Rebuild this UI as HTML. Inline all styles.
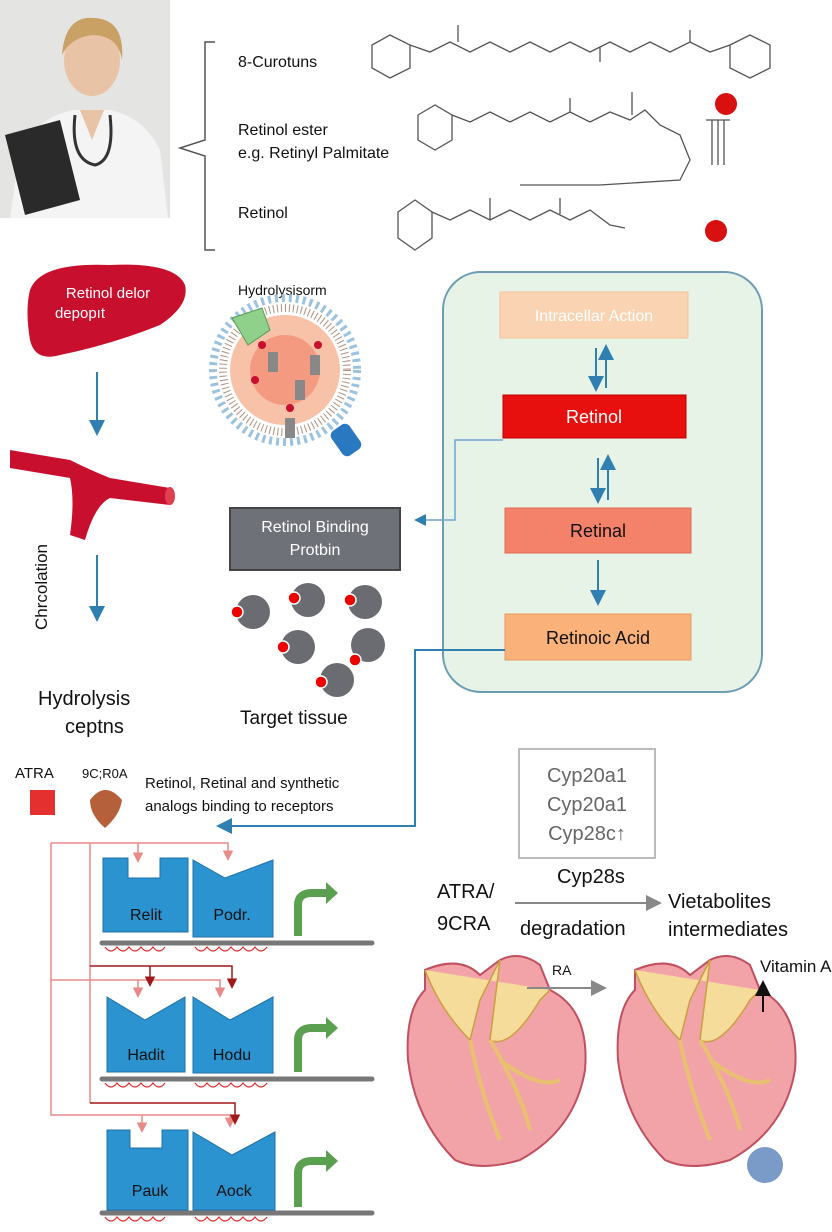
<!DOCTYPE html>
<html><head><meta charset="utf-8"><style>
body{margin:0;background:#fff;}
svg{display:block;font-family:"Liberation Sans",sans-serif;}
</style></head><body>
<svg width="832" height="1232" viewBox="0 0 832 1232" xmlns="http://www.w3.org/2000/svg">
<defs>
<marker id="ab" markerWidth="8" markerHeight="8" refX="6" refY="4" orient="auto"><path d="M0,0 L8,4 L0,8 z" fill="#2f7fb0"/></marker>
<marker id="ag" markerWidth="8" markerHeight="8" refX="6" refY="4" orient="auto"><path d="M0,0 L8,4 L0,8 z" fill="#888"/></marker>
<marker id="ak" markerWidth="8" markerHeight="8" refX="6" refY="4" orient="auto"><path d="M0,0 L8,4 L0,8 z" fill="#111"/></marker>
<marker id="ap" markerWidth="7" markerHeight="7" refX="5" refY="3.5" orient="auto"><path d="M0,0 L7,3.5 L0,7 z" fill="#e88a88"/></marker>
<marker id="ar" markerWidth="7" markerHeight="7" refX="5" refY="3.5" orient="auto"><path d="M0,0 L7,3.5 L0,7 z" fill="#a01818"/></marker>
</defs>
<!-- doctor photo -->
<rect x="0" y="0" width="170" height="218" fill="#e4e4e2"/>
<path d="M10,218 L20,150 Q40,115 75,110 L110,110 Q145,118 160,150 L168,218 z" fill="#f4f4f4"/>
<ellipse cx="92" cy="60" rx="28" ry="36" fill="#e9c3a6"/>
<path d="M62,55 Q65,15 95,18 Q125,20 122,60 Q118,35 92,35 Q70,38 62,55z" fill="#c9a164"/>
<path d="M80,110 L92,140 L104,110z" fill="#e9c3a6"/>
<path d="M5,135 L60,120 L80,200 L25,215z" fill="#2a2a2a"/>
<path d="M75,115 Q70,160 95,165 Q115,160 110,115" fill="none" stroke="#333" stroke-width="3"/>
<!-- bracket -->
<path d="M215,42 L205,42 L205,140 L180,148 L205,156 L205,250 L215,250" fill="none" stroke="#555" stroke-width="1.5"/>
<g font-size="16" fill="#111">
<text x="238" y="67">8-Curotuns</text>
<text x="238" y="135">Retinol  ester</text>
<text x="238" y="158">e.g. Retinyl Palmitate</text>
<text x="238" y="218">Retinol</text>
</g>
<g fill="none" stroke="#555" stroke-width="1.3">
<path d="M372,45 L390,35 L410,45 L410,68 L390,78 L372,68z M410,45 L430,52 L450,42 L470,52 L490,42 L510,52 L530,42 L550,52 L570,42 L590,52 L610,42 L630,52 L650,42 L670,52 L690,42 L710,52 L730,45 M730,45 L750,35 L770,45 L770,68 L750,78 L730,68z M458,42 L458,25 M600,47 L600,62 M690,42 L690,30"/>
<path d="M418,115 L435,105 L452,115 L452,140 L435,150 L418,140z M452,115 L470,122 L490,112 L510,122 L530,112 L550,122 L570,112 L590,122 L610,112 L630,120 L645,110 L660,125 L680,135 L690,160 L680,180 L600,185 L520,185 M570,112 L570,98 M632,115 L632,92"/>
<path d="M398,212 L415,200 L432,212 L432,238 L415,250 L398,238z M432,212 L450,220 L470,210 L490,220 L510,210 L530,220 L550,210 L570,220 L590,210 L610,225 L625,228 M490,220 L490,198 M560,214 L560,198"/>
<path d="M712,120 L712,165 M718,120 L718,165 M724,120 L724,165 M706,120 L730,120"/>
</g>
<circle cx="726" cy="104" r="11" fill="#d81010"/>
<circle cx="716" cy="231" r="11" fill="#d81010"/>
<!-- liver -->
<path d="M30,290 Q40,262 110,265 Q175,262 185,285 Q190,305 160,325 Q110,345 60,355 Q35,362 30,340 Q25,310 30,290z" fill="#c8102e"/>
<text x="108" y="298" font-size="15" fill="#fff" text-anchor="middle">Retinol delor</text>
<text x="80" y="318" font-size="15" fill="#fff" text-anchor="middle">depopıt</text>
<line x1="97" y1="372" x2="97" y2="432" stroke="#2f7fb0" stroke-width="2" marker-end="url(#ab)"/>
<!-- vessel -->
<path d="M10,450 L70,460 Q90,470 110,478 L170,488 L170,505 L110,498 Q95,505 85,540 L70,535 Q75,500 70,478 L10,468z" fill="#c8102e"/>
<ellipse cx="170" cy="496" rx="5" ry="9" fill="#e04050"/>
<line x1="97" y1="555" x2="97" y2="618" stroke="#2f7fb0" stroke-width="2" marker-end="url(#ab)"/>
<text transform="translate(47,630) rotate(-90)" font-size="17" fill="#111">Chrcolation</text>
<text x="38" y="705" font-size="20" fill="#111">Hydrolysis</text>
<text x="65" y="733" font-size="20" fill="#111">ceptns</text>
<!-- liposome -->
<text x="238" y="295" font-size="14" fill="#111">Hydrolysisorm</text>
<circle cx="285" cy="370" r="72" fill="none" stroke="#9bc3e0" stroke-width="8" stroke-dasharray="3 4"/>
<circle cx="285" cy="370" r="62" fill="none" stroke="#b09080" stroke-width="8" stroke-dasharray="1 3"/>
<circle cx="285" cy="370" r="55" fill="#f8c2a8"/>
<circle cx="285" cy="370" r="35" fill="#f49a80"/>
<rect x="268" y="352" width="10" height="20" fill="#888"/><rect x="295" y="380" width="10" height="20" fill="#888"/><rect x="310" y="355" width="10" height="20" fill="#888"/><rect x="285" y="418" width="10" height="20" fill="#888"/>
<g fill="#c8102e"><circle cx="262" cy="345" r="4"/><circle cx="290" cy="408" r="4"/><circle cx="318" cy="345" r="4"/><circle cx="255" cy="380" r="4"/></g>
<path d="M232,318 L262,308 L270,330 L248,345z" fill="#8fd08a" stroke="#5a9a58"/>
<rect x="335" y="425" width="22" height="30" rx="6" fill="#2a78c0" transform="rotate(-35 346 440)"/>
<!-- green panel -->
<rect x="443" y="272" width="319" height="420" rx="38" fill="#e8f3e8" stroke="#6b9db5" stroke-width="2"/>
<rect x="500" y="292" width="188" height="46" fill="#f9d3b2" stroke="#f4c09a"/>
<text x="594" y="321" font-size="16" fill="#fff" text-anchor="middle">Intracellar Action</text>
<line x1="596" y1="348" x2="596" y2="388" stroke="#2f7fb0" stroke-width="2" marker-end="url(#ab)"/>
<line x1="606" y1="388" x2="606" y2="348" stroke="#2f7fb0" stroke-width="2" marker-end="url(#ab)"/>
<rect x="503" y="395" width="183" height="43" fill="#e8100e" stroke="#b00"/>
<text x="594" y="423" font-size="18" fill="#fff" text-anchor="middle">Retinol</text>
<line x1="598" y1="458" x2="598" y2="500" stroke="#2f7fb0" stroke-width="2" marker-end="url(#ab)"/>
<line x1="608" y1="500" x2="608" y2="458" stroke="#2f7fb0" stroke-width="2" marker-end="url(#ab)"/>
<rect x="505" y="508" width="186" height="45" fill="#f4826a" stroke="#e06a50"/>
<text x="598" y="537" font-size="18" fill="#111" text-anchor="middle">Retinal</text>
<line x1="598" y1="560" x2="598" y2="602" stroke="#2f7fb0" stroke-width="2" marker-end="url(#ab)"/>
<rect x="505" y="614" width="186" height="46" fill="#fbb27a" stroke="#e99a60"/>
<text x="598" y="644" font-size="18" fill="#111" text-anchor="middle">Retinoic Acid</text>
<path d="M503,440 L455,440 L455,520 L417,520" fill="none" stroke="#6aa6cf" stroke-width="1.5" marker-end="url(#ab)"/>
<path d="M505,650 L415,650 L415,826 L220,826" fill="none" stroke="#2f7fb0" stroke-width="2" marker-end="url(#ab)"/>
<!-- RBP -->
<rect x="230" y="508" width="170" height="62" fill="#6f7179" stroke="#444" stroke-width="2"/>
<text x="315" y="532" font-size="16" fill="#fff" text-anchor="middle">Retinol Binding</text>
<text x="315" y="555" font-size="16" fill="#fff" text-anchor="middle">Protbin</text>
<g fill="#6a6c72"><circle cx="253" cy="612" r="17"/><circle cx="308" cy="600" r="17"/><circle cx="365" cy="602" r="17"/><circle cx="298" cy="647" r="17"/><circle cx="368" cy="645" r="17"/><circle cx="337" cy="680" r="17"/></g>
<g fill="#e00" stroke="#fff" stroke-width="1.5"><circle cx="237" cy="612" r="6"/><circle cx="294" cy="598" r="6"/><circle cx="350" cy="600" r="6"/><circle cx="283" cy="647" r="6"/><circle cx="355" cy="660" r="6"/><circle cx="321" cy="682" r="6"/></g>
<text x="240" y="724" font-size="19" fill="#111">Target tissue</text>
<!-- ATRA -->
<text x="15" y="778" font-size="15" fill="#111">ATRA</text>
<rect x="30" y="790" width="25" height="25" fill="#e53030"/>
<text x="82" y="778" font-size="13" fill="#111">9C;R0A</text>
<path d="M90,800 Q105,780 122,800 Q120,815 105,828 Q90,815 90,800z" fill="#b5603a"/>
<text x="145" y="788" font-size="15" fill="#111">Retinol, Retinal and synthetic</text>
<text x="145" y="811" font-size="15" fill="#111">analogs binding to receptors</text>
<!-- cyp -->
<rect x="519" y="749" width="136" height="109" fill="none" stroke="#bbb" stroke-width="2"/>
<g font-size="20" fill="#666" text-anchor="middle"><text x="587" y="782">Cyp20a1</text><text x="587" y="811">Cyp20a1</text><text x="587" y="840">Cyp28c↑</text></g>
<g font-size="20" fill="#111"><text x="437" y="898">ATRA/</text><text x="437" y="930">9CRA</text><text x="557" y="883">Cyp28s</text><text x="520" y="935">degradation</text><text x="668" y="908">Vietabolites</text><text x="668" y="936">intermediates</text></g>
<line x1="515" y1="903" x2="658" y2="903" stroke="#888" stroke-width="2" marker-end="url(#ag)"/>
<!-- hearts -->
<g id="heart">
<path d="M425,970 Q460,955 480,975 L500,960 Q520,950 540,965 L550,990 Q590,1010 585,1070 Q575,1130 520,1160 Q480,1172 455,1160 Q415,1120 408,1060 Q405,1010 425,990z" fill="#f2a3a8" stroke="#c05060" stroke-width="2"/>
<path d="M425,970 Q440,1010 470,1040 L480,1000 L500,960 L490,1040 Q510,1050 540,1000 L550,990" fill="#f5dc9a" stroke="#c9a040" stroke-width="1.5"/>
<path d="M470,1040 Q480,1090 500,1140 M490,1040 Q520,1090 530,1130 M500,1060 Q540,1090 560,1080" fill="none" stroke="#e8c070" stroke-width="4"/>
</g>
<use href="#heart" transform="translate(210,0)"/>
<ellipse cx="765" cy="1165" rx="18" ry="18" fill="#7a9ac8"/>
<text x="552" y="975" font-size="14" fill="#111">RA</text>
<line x1="527" y1="988" x2="603" y2="988" stroke="#888" stroke-width="2" marker-end="url(#ag)"/>
<text x="760" y="972" font-size="17" fill="#111">Vitamin A</text>
<line x1="763" y1="1012" x2="763" y2="984" stroke="#111" stroke-width="2" marker-end="url(#ak)"/>
<!-- receptor network -->
<g fill="none" stroke="#e88a88" stroke-width="1.5">
<path d="M51,843 L51,1115 L230,1115 L230,1125" marker-end="url(#ap)"/>
<path d="M90,843 L90,1103"/>
<path d="M51,843 L138,843 L138,860" marker-end="url(#ap)"/>
<path d="M138,843 L228,843 L228,858" marker-end="url(#ap)"/>
<path d="M51,980 L138,980 L138,995" marker-end="url(#ap)"/>
<path d="M138,980 L220,980 L220,995" marker-end="url(#ap)"/>
<path d="M142,1115 L142,1130" marker-end="url(#ap)"/>
</g>
<g fill="none" stroke="#a01818" stroke-width="1.5">
<path d="M90,966 L232,966 L232,986" marker-end="url(#ar)"/>
<path d="M150,966 L150,984" marker-end="url(#ar)"/>
<path d="M90,1103 L235,1103 L235,1122" marker-end="url(#ar)"/>
</g>
<g fill="#2b93cf" stroke="#1f70a8">
<path d="M103,858 L128,858 L128,878 L160,878 L160,858 L188,858 L188,932 L103,932z"/>
<path d="M193,860 L225,878 L273,860 L273,937 L193,937z"/>
<path d="M107,997 L145,1020 L185,997 L185,1072 L107,1072z"/>
<path d="M193,997 L230,1020 L273,997 L273,1073 L193,1073z"/>
<path d="M107,1130 L130,1130 L130,1148 L162,1148 L162,1130 L188,1130 L188,1210 L107,1210z"/>
<path d="M193,1132 L232,1155 L275,1132 L275,1210 L193,1210z"/>
</g>
<g font-size="16" fill="#111" text-anchor="middle">
<text x="146" y="920">Relit</text><text x="232" y="920">Podr.</text>
<text x="146" y="1060">Hadit</text><text x="232" y="1060">Hodu</text>
<text x="150" y="1196">Pauk</text><text x="234" y="1196">Aock</text>
</g>
<g stroke="#777" stroke-width="5" stroke-linecap="round">
<line x1="102" y1="943" x2="372" y2="943"/><line x1="102" y1="1079" x2="372" y2="1079"/><line x1="102" y1="1213" x2="372" y2="1213"/>
</g>
<g fill="none" stroke="#e03030" stroke-width="1.2">
<path d="M105,947 q6,8 12,0 q6,8 12,0 q6,8 12,0 q6,8 12,0 q6,8 12,0 M195,947 q6,8 12,0 q6,8 12,0 q6,8 12,0 q6,8 12,0 q6,8 12,0 q6,8 12,0"/>
<path d="M105,1083 q6,8 12,0 q6,8 12,0 q6,8 12,0 q6,8 12,0 q6,8 12,0 M195,1083 q6,8 12,0 q6,8 12,0 q6,8 12,0 q6,8 12,0 q6,8 12,0 q6,8 12,0"/>
<path d="M105,1217 q6,8 12,0 q6,8 12,0 q6,8 12,0 q6,8 12,0 q6,8 12,0 M195,1217 q6,8 12,0 q6,8 12,0 q6,8 12,0 q6,8 12,0 q6,8 12,0 q6,8 12,0"/>
</g>
<g fill="none" stroke="#5aa050" stroke-width="8">
<path d="M298,936 L298,905 Q298,893 312,893 L328,893"/>
<path d="M298,1072 L298,1040 Q298,1028 312,1028 L328,1028"/>
<path d="M298,1207 L298,1173 Q298,1161 312,1161 L328,1161"/>
</g>
<g fill="#5aa050"><path d="M326,882 L338,893 L326,904z"/><path d="M326,1017 L338,1028 L326,1039z"/><path d="M326,1150 L338,1161 L326,1172z"/></g>
</svg>
</body></html>
